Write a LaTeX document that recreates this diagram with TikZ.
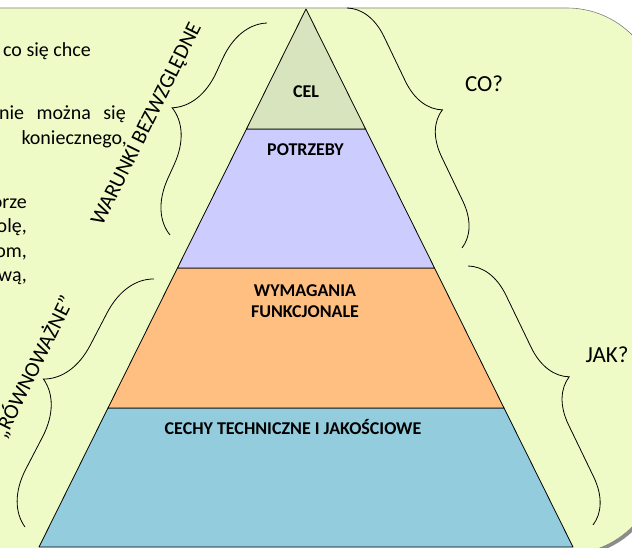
\documentclass[tikz,border=0pt]{standalone}
\usepackage{fontspec}
\setmainfont{Carlito}
\usetikzlibrary{calc,decorations.pathreplacing}
\definecolor{SlideGreen}{HTML}{EFFBC6}
\definecolor{GoalGreen}{HTML}{D7E4BD}
\definecolor{NeedsBlue}{HTML}{CCCCFF}
\definecolor{FuncOrange}{HTML}{FFBF80}
\definecolor{TechBlue}{HTML}{93CDDD}

\tikzset{
  layer/.style={draw=black, line width=0.8pt, line join=round},
  layerlabel/.style={font=\bfseries\fontsize{18}{21.5}\selectfont, align=center},
  sidebrace/.style={decorate, decoration={brace, amplitude=#1}, line width=0.8pt},
  sidelabel/.style={font=\fontsize{21.5}{24}\selectfont, rotate=63.6, anchor=base},
  question/.style={font=\fontsize{23}{27}\selectfont},
  bodyline/.style={font=\fontsize{20}{24.4}\selectfont, anchor=base east, inner sep=0pt}
}

\begin{document}
\begin{tikzpicture}[x=1pt,y=-1pt]
  \useasboundingbox (0,0) rectangle (632,548);
  \clip (0,0) rectangle (632,548);

  % slide panel
  \fill[black!45, rounded corners=92pt] (-100,10) rectangle (661.5,556.5);
  \draw[black!50, line width=0.6pt, fill=SlideGreen, rounded corners=92pt] (-100,8) rectangle (659,554);

  % pyramid
  \coordinate (apex) at (306,9);
  \coordinate (baseL) at (39,547);
  \coordinate (baseR) at (573,547);
  \coordinate (goalL) at ($(apex)!0.2230!(baseL)$);
  \coordinate (goalR) at ($(apex)!0.2230!(baseR)$);
  \coordinate (needL) at ($(apex)!0.4814!(baseL)$);
  \coordinate (needR) at ($(apex)!0.4814!(baseR)$);
  \coordinate (funcL) at ($(apex)!0.7416!(baseL)$);
  \coordinate (funcR) at ($(apex)!0.7416!(baseR)$);

  \filldraw[layer, fill=TechBlue] (funcL) -- (funcR) -- (baseR) -- (baseL) -- cycle;
  \filldraw[layer, fill=FuncOrange] (needL) -- (needR) -- (funcR) -- (funcL) -- cycle;
  \filldraw[layer, fill=NeedsBlue] (goalL) -- (goalR) -- (needR) -- (needL) -- cycle;
  \filldraw[layer, fill=GoalGreen] (apex) -- (goalR) -- (goalL) -- cycle;

  \node[layerlabel] (cel) at (306,91.5) {CEL};
  \node[layerlabel] (potrzeby) at (305.5,149.7) {POTRZEBY};
  \node[layerlabel] (wymagania) at (305,301) {WYMAGANIA\\FUNKCJONALE};
  \node[layerlabel] (cechy) at (293,427) {CECHY TECHNICZNE I JAKOŚCIOWE};

  % braces
  \coordinate (absTop) at (267,23);
  \coordinate (absBot) at (170,235);
  \draw[sidebrace=51pt] (absBot) -- (absTop);
  \coordinate (balTop) at (154,279);
  \coordinate (balBot) at (25,527);
  \draw[sidebrace=52pt] (balBot) -- (balTop);
  \coordinate (whatTop) at (347,8);
  \coordinate (whatBot) at (462,248);
  \draw[sidebrace=42pt] (whatTop) -- (whatBot);
  \coordinate (howTop) at (468,266);
  \coordinate (howBot) at (593,525);
  \draw[sidebrace=43pt] (howTop) -- (howBot);

  \node[sidelabel] (absolute) at (152,127) {WARUNKI BEZWZGLĘDNE};
  \node[sidelabel, anchor=base east] (balanced) at (76,297) {„RÓWNOWAŻNE”};
  \node[question] (what) at (484,83.5) {CO?};
  \node[question] (how) at (607,355) {JAK?};

  % text on the left, cut by the slide edge
  \node[bodyline] (line1) at (91,56.7) {co się chce};
  \node[bodyline] (line2) at (126,119.3) {nie\hspace{8pt} można\hspace{8pt} się};
  \node[bodyline] (line3) at (127,145) {koniecznego,};
  \node[bodyline] (line4) at (27,208.3) {orze};
  \node[bodyline] (line5) at (27,233) {olę,};
  \node[bodyline] (line6) at (27,257.3) {om,};
  \node[bodyline] (line7) at (27,281.7) {wą,};
\end{tikzpicture}
\end{document}
